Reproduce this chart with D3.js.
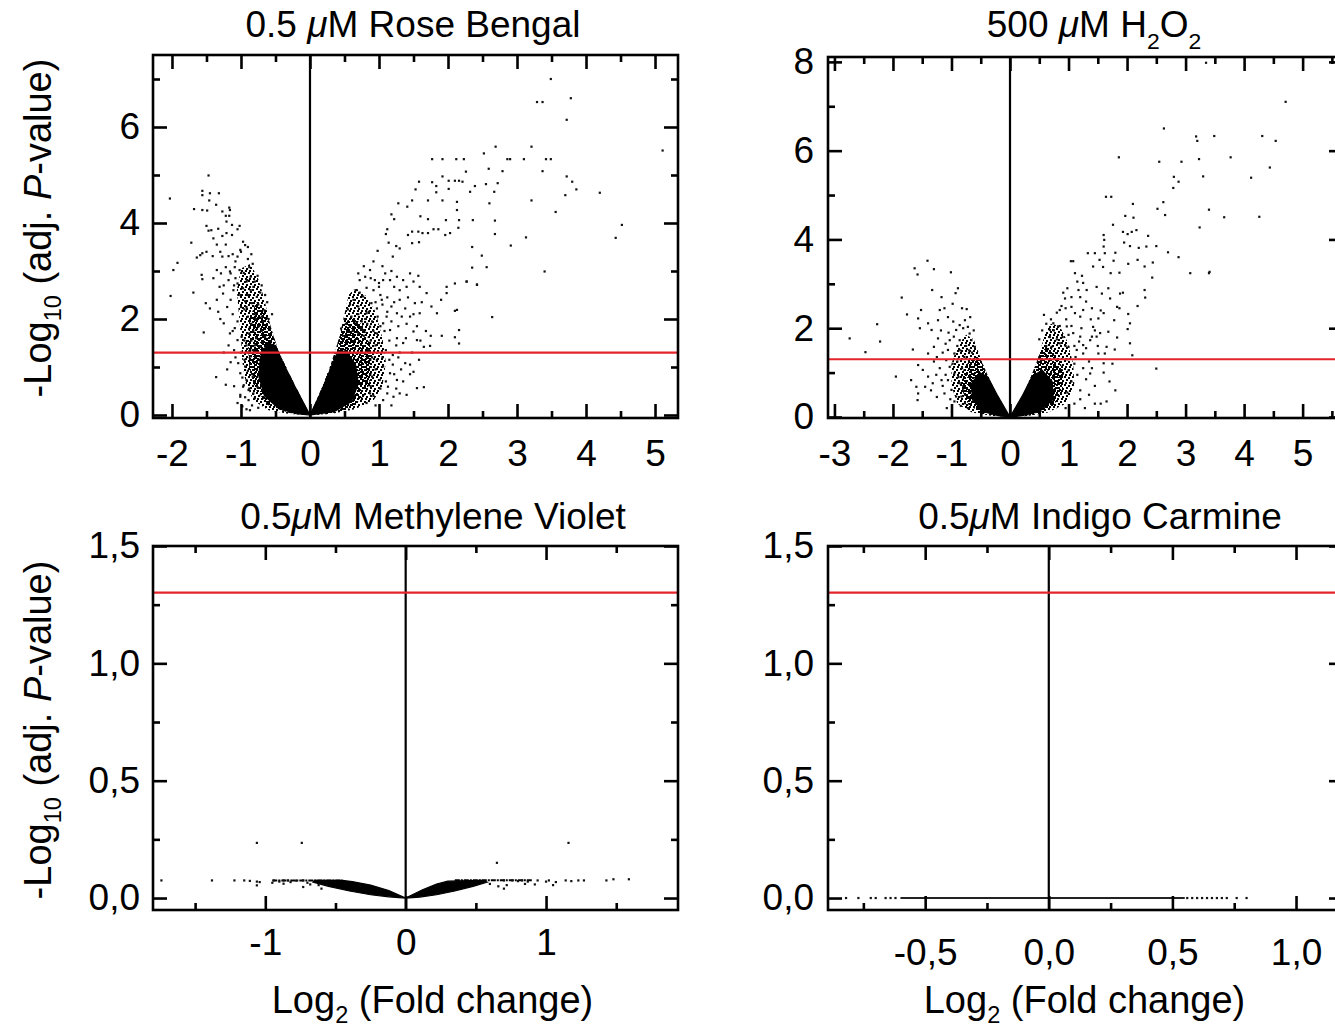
<!DOCTYPE html>
<html>
<head>
<meta charset="utf-8">
<script src="https://cdn.jsdelivr.net/npm/d3@7"></script>
<style>
  html, body { margin: 0; padding: 0; background: #fff; overflow: hidden; }
  svg { display: block; }
  text { font-family: "Liberation Sans", Arial, sans-serif; fill: #000; }
</style>
</head>
<body>
<svg id="chart" width="1335" height="1027"></svg>
<script>
// ---- data: volcano plots, [log2 fold change, -log10 adj. p] ----
const threshold = -Math.log10(0.05);

// Rose Bengal
const roseXTicks = [-2, -1, 0, 1, 2, 3, 4, 5];
const roseXMinor = [-1.5, -0.5, 0.5, 1.5, 2.5, 3.5, 4.5];
const roseYTicks = [0, 2, 4, 6];
const roseYMinor = [1, 3, 5, 7];
// envelopes of the dense cloud: outer (sparse), mid (denser), core (solid)
const roseCloud = [
  [[0, 0], [-0.3, 0.85], [-0.48, 1.4], [-0.58, 1.9], [-0.66, 2.4], [-0.74, 2.8], [-0.86, 3.15], [-1.0, 3.05],
    [-1.06, 2.6], [-1.03, 2.1], [-1.0, 1.6], [-0.98, 1.1], [-0.93, 0.65], [-0.82, 0.3], [-0.6, 0.1], [-0.3, 0.02]],
  [[0, 0], [0.2, 0.65], [0.32, 1.1], [0.42, 1.6], [0.5, 2.1], [0.56, 2.5], [0.66, 2.65], [0.8, 2.5], [0.95, 2.15],
    [1.05, 1.6], [1.1, 1.1], [1.05, 0.6], [0.92, 0.3], [0.65, 0.12], [0.3, 0.02]]
];
const roseMid = [
  [[0, 0], [-0.28, 0.8], [-0.46, 1.35], [-0.56, 1.8], [-0.65, 2.2], [-0.78, 2.35], [-0.88, 2.0], [-0.9, 1.5],
    [-0.88, 1.0], [-0.8, 0.55], [-0.6, 0.2], [-0.3, 0.04]],
  [[0, 0], [0.18, 0.6], [0.3, 1.05], [0.4, 1.5], [0.48, 1.9], [0.62, 2.05], [0.78, 1.85], [0.88, 1.4], [0.9, 0.9],
    [0.82, 0.45], [0.6, 0.15], [0.3, 0.03]]
];
const roseCore = [
  [[0, 0], [-0.22, 0.6], [-0.4, 1.12], [-0.5, 1.45], [-0.62, 1.5], [-0.72, 1.2], [-0.74, 0.8], [-0.66, 0.4],
    [-0.45, 0.13], [-0.2, 0.03]],
  [[0, 0], [0.15, 0.45], [0.28, 0.9], [0.38, 1.25], [0.52, 1.35], [0.66, 1.05], [0.7, 0.65], [0.6, 0.28], [0.35, 0.07]]
];
const rosePoints = [
  [-2.03, 4.51], [-1.56, 4.67], [-1.56, 4.58], [-1.45, 4.62], [-1.32, 4.62], [-1.47, 4.99], [-1.46, 4.47], [-1.36, 4.38],
  [-1.68, 4.29], [-1.56, 4.27], [-1.49, 4.26], [-1.27, 4.24], [-1.17, 4.32], [-1.16, 4.27], [-1.22, 4.15], [-1.17, 4.15],
  [-1.21, 4.03], [-1.13, 3.96], [-1.02, 3.94], [-1.05, 3.87], [-1.5, 3.94], [-1.47, 3.84], [-1.43, 3.85], [-1.33, 3.88],
  [-1.4, 3.68], [-1.27, 3.73], [-1.21, 3.79], [-1.13, 3.75], [-1.72, 3.59], [-1.56, 3.37], [-1.5, 3.4], [-1.41, 3.31],
  [-1.3, 3.4], [-1.27, 3.3], [-1.18, 3.31], [-1.12, 3.35], [-1.05, 3.3], [-1.01, 3.44], [-0.97, 3.61], [-0.94, 3.54],
  [-1.92, 3.17], [-1.98, 3.02], [-1.64, 3.28], [-1.59, 3.33], [-1.57, 2.92], [-1.56, 2.83], [-1.35, 3.02], [-1.29, 2.95],
  [-1.22, 3.08], [-1.16, 2.99], [-1.09, 3.08], [-1.02, 3.02], [-0.96, 2.96], [-0.88, 3.08], [-0.86, 2.88], [-0.92, 2.78],
  [-2.02, 2.48], [-1.69, 2.55], [-1.51, 2.33], [-1.45, 2.22], [-1.33, 2.15], [-1.31, 2.67], [-1.26, 2.53], [-1.18, 2.81],
  [-1.11, 2.6], [-1.05, 2.74], [-1.01, 2.5], [-0.97, 2.64], [-0.91, 2.81], [-0.82, 2.67], [-0.77, 2.46], [-0.84, 2.33],
  [-0.94, 2.37], [-1.54, 1.72], [-1.36, 0.79], [-1.22, 0.63], [-1.25, 1.91], [-1.16, 1.7], [-1.09, 1.81], [-1.05, 1.56],
  [-0.99, 1.63], [-1.04, 1.08], [-1.01, 0.87], [-0.94, 1.01], [-0.92, 0.73], [-0.97, 0.59], [-1.01, 0.38], [-0.89, 0.31],
  [-0.82, 0.45], [-0.87, 0.1], [-1.01, 0.42], [-0.94, 0.37], [-0.89, 0.52],
  [-0.95, 2.2], [-0.9, 2.05], [-0.85, 1.9], [-0.8, 2.1], [-0.75, 2.3], [-0.7, 2.05], [-0.88, 1.7], [-0.78, 1.6],
  [-0.7, 1.75], [-0.65, 1.62], [-0.92, 1.45], [-0.83, 1.35], [-0.62, 2.35], [-0.66, 2.18], [-0.72, 2.55], [-0.8, 2.78],
  [-0.68, 1.95], [-0.95, 1.55], [-0.95, 1.15], [-0.9, 0.92], [-0.86, 1.22], [-0.83, 0.8], [-0.96, 0.62], [-0.88, 0.55],
  [-0.8, 0.35], [-0.76, 0.58], [-1.1, 1.35], [-1.05, 1.95], [-1.12, 2.1], [-1.0, 2.25], [-0.9, 2.5], [-0.86, 2.6],
  [-0.78, 2.0], [-0.74, 1.85], [-0.6, 2.0], [-0.58, 1.8], [-0.85, 1.55], [-0.8, 1.45], [-0.9, 1.3], [-1.0, 1.3],
  [-0.98, 0.78], [-0.84, 0.2], [-0.75, 0.15], [-0.7, 2.7], [-0.76, 2.9], [-0.83, 3.15], [-0.9, 3.25], [-1.08, 2.85],
  [-1.15, 2.4], [-1.2, 2.25], [-1.08, 1.2], [-1.18, 1.45], [-0.65, 2.5], [-0.55, 2.1], [-0.92, 2.25], [-0.82, 1.75],
  [-0.72, 1.42], [-0.68, 1.3],
  [-1.1, 2.7], [-1.15, 2.95], [-1.12, 1.75], [-1.15, 1.1], [-1.2, 0.95], [-1.1, 0.6], [-1.05, 0.25], [-0.98, 0.18],
  [-0.92, 0.12], [-1.25, 1.3], [-1.3, 2.0], [-1.35, 2.4], [-1.25, 2.7], [-1.4, 2.85], [-1.08, 3.2], [-1.0, 3.4],
  [-0.9, 3.5], [-1.22, 3.55], [-1.35, 3.55], [-0.85, 3.35],
  [3.49, 7.0], [3.29, 6.52], [3.37, 6.52], [3.78, 6.6], [3.72, 6.15], [5.11, 5.51], [2.69, 5.59], [3.21, 5.59],
  [1.77, 5.33], [1.92, 5.33], [2.12, 5.33], [2.23, 5.33], [2.86, 5.33], [2.9, 5.33], [3.1, 5.33], [3.42, 5.33],
  [3.49, 5.33], [2.52, 5.45], [2.59, 5.13], [2.26, 5.07], [2.79, 5.08], [3.37, 5.08], [3.72, 4.97], [3.8, 4.86],
  [3.86, 4.7], [3.7, 4.58], [4.2, 4.63], [3.56, 4.23], [3.21, 4.47], [4.52, 3.96], [4.43, 3.69], [3.13, 3.7],
  [3.4, 2.99], [2.64, 2.04], [2.91, 3.53], [2.68, 3.77], [2.68, 4.05], [2.67, 4.65], [2.72, 4.83], [2.6, 4.41],
  [2.55, 4.81], [2.39, 4.77], [2.32, 4.65], [2.49, 3.32], [2.56, 3.08], [2.36, 4.06], [2.35, 3.5], [2.35, 3.07],
  [2.42, 2.72], [2.27, 2.78], [2.15, 3.9], [2.16, 4.06], [2.13, 4.27], [2.13, 4.44], [2.1, 4.88], [2.16, 4.88],
  [2.21, 4.86], [2.01, 4.88], [2.01, 4.71], [1.92, 4.97], [1.83, 4.77], [1.83, 4.64], [1.77, 4.85], [1.58, 4.86],
  [1.53, 4.7], [1.48, 4.47], [1.71, 4.47], [1.92, 4.47], [1.28, 4.41], [1.41, 4.34], [1.18, 4.18], [1.22, 4.08],
  [1.6, 4.14], [1.71, 4.08], [1.97, 4.06], [1.12, 3.87], [1.1, 3.77], [1.42, 3.75], [1.48, 3.82], [1.57, 3.82],
  [1.63, 3.79], [1.71, 3.79], [1.79, 3.87], [1.86, 3.87], [1.96, 3.75], [2.03, 3.79], [0.98, 3.42], [1.14, 3.59],
  [1.25, 3.52], [1.3, 3.47], [1.48, 3.58], [1.58, 3.6],
  [0.72, 2.81], [0.8, 2.88], [0.87, 3.02], [0.94, 2.81], [1.0, 2.67], [1.06, 2.81], [1.09, 2.95], [1.16, 2.81],
  [1.22, 2.67], [1.26, 2.88], [1.3, 2.6], [1.35, 2.81], [1.4, 2.67], [1.45, 2.95], [1.5, 2.78], [1.57, 2.9], [1.59, 2.67],
  [0.63, 2.4], [0.7, 2.26], [0.77, 2.47], [0.82, 2.12], [0.89, 2.33], [0.97, 2.22], [1.04, 2.4], [1.11, 2.05],
  [1.18, 2.26], [1.26, 2.12], [1.3, 2.4], [1.38, 2.22], [1.45, 2.05], [1.52, 2.33], [1.59, 2.12], [1.69, 2.54],
  [1.76, 2.26], [1.84, 2.12], [1.9, 2.4], [1.98, 2.67], [2.1, 2.74], [2.13, 2.19], [2.27, 2.78], [2.42, 2.71],
  [0.58, 1.84], [0.68, 1.91], [0.77, 1.77], [0.87, 1.84], [0.97, 1.7], [1.06, 1.91], [1.16, 1.77], [1.26, 1.6],
  [1.39, 1.6], [1.5, 1.74], [1.55, 1.56], [1.65, 1.42], [1.74, 1.44], [1.75, 1.65], [1.91, 1.65], [2.1, 1.62],
  [2.16, 1.49], [2.16, 1.77], [2.1, 2.17], [1.98, 2.54],
  [0.97, 1.15], [1.06, 1.01], [1.16, 0.87], [1.26, 0.73], [1.13, 0.59], [1.3, 0.45], [1.4, 0.42], [1.21, 0.38],
  [1.38, 1.08], [1.55, 0.56], [1.65, 0.58], [1.01, 0.73], [0.87, 0.45], [1.06, 0.31],
  [0.5, 2.0], [0.55, 2.2], [0.6, 2.05], [0.65, 1.95], [0.7, 2.1], [0.75, 1.95], [0.8, 2.0], [0.85, 2.15], [0.9, 1.95],
  [0.62, 1.75], [0.7, 1.7], [0.78, 1.65], [0.88, 1.55], [0.95, 1.45], [1.0, 1.5], [0.85, 1.35], [0.9, 1.2], [0.95, 0.95],
  [0.9, 0.8], [0.88, 0.6], [0.92, 0.4], [0.82, 0.25], [0.95, 0.2], [1.02, 0.55], [1.1, 0.7], [1.05, 1.2], [1.1, 1.35],
  [1.15, 1.55], [1.2, 1.25], [1.2, 1.05], [0.72, 2.55], [0.66, 2.6], [0.58, 2.3], [0.52, 1.9], [0.45, 1.8], [0.92, 2.6],
  [1.02, 2.5], [1.12, 2.45], [0.98, 2.05], [1.08, 1.75], [1.3, 1.3], [1.32, 0.95], [1.45, 0.85], [1.25, 1.45],
  [0.48, 1.65], [0.75, 1.8], [0.83, 1.9], [0.92, 1.75], [1.02, 1.85],
  [1.05, 2.3], [1.12, 2.15], [1.18, 1.95], [1.22, 2.35], [1.28, 1.85], [1.33, 2.05], [1.35, 1.5], [1.4, 1.9],
  [1.42, 2.45], [1.48, 1.3], [1.5, 2.1], [1.55, 1.85], [1.6, 1.55], [1.62, 2.35], [1.68, 1.75], [1.15, 1.15],
  [1.22, 0.85], [1.28, 1.2], [1.35, 0.7], [1.45, 1.05], [1.5, 0.9], [1.58, 1.15], [1.12, 0.45], [1.18, 0.2],
  [1.25, 0.55], [0.95, 2.35], [1.0, 2.75], [0.82, 2.65], [0.88, 2.85], [0.78, 3.1], [0.92, 3.2], [1.05, 3.1],
  [1.18, 3.0], [1.2, 3.3], [0.7, 2.95]
];

// H2O2
const h2o2XTicks = [-3, -2, -1, 0, 1, 2, 3, 4, 5];
const h2o2XMinor = [-2.5, -1.5, -0.5, 0.5, 1.5, 2.5, 3.5, 4.5, 5.5];
const h2o2YTicks = [0, 2, 4, 6, 8];
const h2o2YMinor = [1, 3, 5, 7];
const h2o2Cloud = [
  [[0, 0], [-0.28, 0.65], [-0.45, 1.15], [-0.55, 1.5], [-0.62, 1.75], [-0.75, 1.85], [-0.9, 1.6], [-1.0, 1.2],
    [-1.0, 0.7], [-0.9, 0.3], [-0.65, 0.1], [-0.3, 0.02]],
  [[0, 0], [0.28, 0.65], [0.42, 1.1], [0.52, 1.5], [0.6, 1.9], [0.7, 2.1], [0.85, 2.05], [0.98, 1.7], [1.08, 1.2],
    [1.1, 0.7], [0.95, 0.3], [0.65, 0.1], [0.3, 0.02]]
];
const h2o2Mid = [
  [[0, 0], [-0.26, 0.6], [-0.42, 1.05], [-0.52, 1.35], [-0.66, 1.35], [-0.8, 1.05], [-0.82, 0.6], [-0.7, 0.25],
    [-0.4, 0.06]],
  [[0, 0], [0.26, 0.6], [0.4, 1.05], [0.5, 1.4], [0.62, 1.6], [0.8, 1.45], [0.92, 1.0], [0.9, 0.55], [0.72, 0.22],
    [0.4, 0.05]]
];
const h2o2Core = [
  [[0, 0], [-0.22, 0.5], [-0.38, 0.9], [-0.52, 1.0], [-0.66, 0.75], [-0.64, 0.38], [-0.45, 0.12], [-0.2, 0.03]],
  [[0, 0], [0.22, 0.5], [0.38, 0.92], [0.55, 1.05], [0.72, 0.8], [0.74, 0.4], [0.5, 0.12], [0.2, 0.03]]
];
const h2o2Points = [
  [-2.74, 1.77], [-2.47, 1.46], [-2.27, 2.09], [-2.22, 1.7], [-1.95, 0.91], [-1.85, 2.69], [-1.76, 2.31], [-1.63, 3.35],
  [-1.58, 3.21], [-1.41, 3.52], [-1.3, 3.33], [-1.33, 2.86], [-1.17, 2.7], [-1.01, 3.26], [-0.93, 2.79], [-0.89, 2.9],
  [-0.82, 2.45], [-0.74, 2.43], [-1.52, 2.41], [-1.57, 2.22], [-1.54, 2.0], [-1.4, 2.11], [-1.34, 1.96], [-1.23, 2.18],
  [-1.2, 2.41], [-1.23, 1.77], [-1.3, 1.58], [-1.4, 1.43], [-1.66, 1.52], [-1.57, 1.17], [-1.49, 1.06], [-1.4, 0.91],
  [-1.6, 0.68], [-1.57, 0.53], [-1.45, 0.68], [-1.32, 0.76], [-1.26, 0.95], [-1.17, 0.83], [-1.69, 0.83], [-1.58, 0.38],
  [-1.06, 2.25], [-0.97, 2.15], [-0.92, 1.96], [-0.86, 2.07], [-0.8, 2.0], [-1.03, 1.73], [-0.96, 1.81], [-0.86, 1.73],
  [-1.06, 1.51], [-0.95, 1.43], [-1.09, 1.28], [-0.77, 2.18], [-0.72, 2.03], [-0.69, 1.88], [-0.66, 1.73], [-0.6, 1.58],
  [-1.03, 1.13], [-0.95, 0.98], [-0.86, 0.76], [-1.0, 0.61], [-0.92, 0.46], [-1.06, 0.83], [-0.83, 0.46], [-0.77, 0.31],
  [-1.12, 0.53], [-0.85, 1.5], [-0.78, 1.35], [-0.9, 1.25], [-0.82, 1.1], [-0.88, 0.9], [-0.8, 0.6], [-0.7, 1.5],
  [-0.75, 1.6], [-0.65, 1.45], [-0.9, 1.6], [-0.98, 1.2], [-0.84, 0.25], [-0.95, 0.35], [-1.1, 0.95], [-1.15, 1.45],
  [-0.72, 0.2],
  [-1.05, 1.9], [-1.1, 1.65], [-1.02, 0.4], [-1.08, 0.2], [-1.15, 0.7], [-1.2, 1.1], [-1.25, 1.35], [-1.18, 1.95],
  [-1.3, 1.25], [-1.35, 0.6], [-0.68, 2.25], [-0.62, 1.95], [-1.12, 2.45], [-1.25, 0.45], [-0.98, 2.55],
  [3.35, 7.98], [4.71, 7.1], [2.63, 6.5], [3.18, 6.32], [3.2, 6.22], [3.49, 6.33], [4.31, 6.33], [4.54, 6.22],
  [1.86, 5.85], [2.55, 5.75], [2.93, 5.75], [3.23, 5.81], [3.77, 5.85], [4.44, 5.62], [2.8, 5.41], [2.88, 5.3],
  [2.79, 5.16], [3.3, 5.42], [4.12, 5.39], [1.64, 4.96], [1.73, 4.96], [2.62, 4.84], [2.52, 4.69], [2.65, 4.55],
  [2.1, 4.8], [3.4, 4.67], [3.66, 4.5], [4.26, 4.51], [3.24, 4.27], [1.97, 4.53], [2.11, 4.49], [1.76, 4.33],
  [1.93, 4.17], [2.01, 4.12], [2.08, 4.17], [2.16, 4.21], [2.36, 4.08], [1.95, 3.93], [2.05, 3.85], [2.2, 3.81],
  [2.33, 3.84], [2.5, 3.85], [1.6, 4.1], [1.61, 3.99], [1.6, 3.84], [2.7, 3.71], [2.88, 3.6], [3.08, 3.24],
  [3.4, 3.24], [3.41, 3.27], [1.33, 3.69], [1.45, 3.69], [1.53, 3.54], [1.62, 3.69], [1.77, 3.52], [1.8, 3.7],
  [1.42, 3.39], [1.59, 3.38], [1.72, 3.24], [1.87, 3.25], [2.02, 3.45], [2.18, 3.54], [2.3, 3.39], [2.44, 3.48],
  [2.43, 3.14], [1.04, 3.51], [1.08, 3.51], [1.11, 3.24], [1.23, 3.18], [1.25, 3.02], [1.17, 2.86], [0.91, 2.8],
  [0.94, 2.67], [1.2, 2.7], [1.31, 2.86], [1.48, 2.93], [1.57, 2.78], [1.68, 2.9], [1.71, 2.67], [1.88, 2.78],
  [1.83, 2.48], [1.6, 2.34], [1.51, 2.22], [1.42, 2.03], [1.4, 1.81], [1.54, 1.89], [1.68, 1.92], [1.78, 2.18],
  [1.87, 2.45], [2.02, 2.32], [2.05, 2.11], [2.01, 1.98], [2.18, 2.5], [2.3, 2.86], [2.31, 2.69], [1.93, 2.8],
  [1.05, 2.48], [1.11, 2.34], [1.2, 2.26], [1.25, 2.41], [0.85, 2.41], [0.74, 2.11], [0.68, 1.96], [0.82, 2.04],
  [0.97, 2.04], [1.08, 1.89], [1.2, 1.81], [1.25, 1.62], [1.37, 1.73], [1.48, 1.81], [1.51, 1.43], [1.65, 1.58],
  [1.79, 1.52], [1.83, 1.79], [1.62, 1.43], [2.05, 1.66], [2.09, 1.39], [2.5, 1.09], [1.37, 0.98], [1.6, 1.21],
  [1.25, 1.43], [1.14, 1.51], [1.0, 1.58], [0.85, 1.66], [0.71, 1.58],
  [0.55, 1.95], [0.62, 2.1], [0.7, 2.2], [0.75, 1.95], [0.8, 1.75], [0.85, 2.05], [0.9, 1.8], [0.95, 1.6],
  [0.68, 1.8], [0.62, 1.6], [0.98, 1.3], [1.0, 1.05], [1.05, 0.8], [0.98, 0.55], [1.1, 1.2], [1.15, 0.95],
  [1.2, 0.6], [1.3, 0.85], [1.35, 0.5], [1.45, 0.7], [1.55, 0.3], [1.65, 0.35], [1.1, 0.3], [0.95, 0.2],
  [1.25, 1.1], [1.4, 1.1], [0.8, 2.35], [0.88, 2.5], [0.96, 2.2], [1.0, 1.85], [1.1, 1.6], [0.58, 2.3],
  [0.5, 1.75], [1.05, 2.05],
  [1.12, 1.35], [1.18, 1.7], [1.22, 2.0], [1.3, 1.55], [1.35, 1.25], [1.38, 2.2], [1.45, 1.95], [1.5, 1.6],
  [1.55, 2.4], [1.6, 1.0], [1.7, 0.8], [1.75, 1.2], [1.8, 0.6], [1.2, 0.4], [1.28, 0.2], [1.45, 0.3],
  [0.95, 2.45], [1.05, 2.7], [0.98, 2.9], [1.15, 3.05], [1.3, 2.6], [1.4, 2.45]
];

// Methylene Violet
const mvXTicks = [-1, 0, 1];
const mvXMinor = [-1.5, -0.5, 0.5, 1.5];
const mvYTicks = [0, 0.5, 1.0, 1.5];
const mvYMinor = [0.25, 0.75, 1.25];
const mvCore = [
  [[0, 0], [-0.12, 0.032], [-0.25, 0.055], [-0.38, 0.07], [-0.45, 0.075], [-0.65, 0.075], [-0.66, 0.068],
    [-0.55, 0.05], [-0.4, 0.03], [-0.25, 0.014], [-0.12, 0.005]],
  [[0, 0], [0.12, 0.035], [0.22, 0.06], [0.3, 0.072], [0.55, 0.075], [0.58, 0.068], [0.48, 0.05], [0.35, 0.03],
    [0.22, 0.014], [0.1, 0.004]]
];
const mvRows = [[-0.95, -0.45, 0.075], [0.35, 0.9, 0.076]];
const mvPoints = [
  [-1.74, 0.075], [-1.38, 0.075], [-1.22, 0.075], [-1.15, 0.075], [-1.11, 0.073], [-1.06, 0.07], [-1.04, 0.068],
  [-0.94, 0.075], [-0.87, 0.075], [-0.84, 0.075], [-0.78, 0.074], [-0.73, 0.075], [-1.06, 0.054], [-0.87, 0.061],
  [-0.73, 0.047], [-0.6, 0.04], [-1.06, 0.235], [-0.74, 0.235], [1.16, 0.235], [0.65, 0.15], [0.7, 0.075],
  [0.76, 0.075], [0.8, 0.072], [0.83, 0.075], [0.87, 0.07], [0.94, 0.075], [1.0, 0.07], [1.02, 0.075], [1.07, 0.068],
  [1.14, 0.075], [1.18, 0.072], [1.23, 0.075], [1.27, 0.075], [1.43, 0.075], [1.48, 0.08], [1.59, 0.08], [0.6, 0.06],
  [0.66, 0.05], [0.72, 0.055], [0.85, 0.06], [0.92, 0.058], [1.05, 0.055], [0.7, 0.04], [-0.95, 0.065], [-0.9, 0.07],
  [-0.82, 0.068], [-0.7, 0.065], [-0.68, 0.058], [-0.62, 0.055]
];

// Indigo Carmine
const icXTicks = [-0.5, 0, 0.5, 1.0];
const icXMinor = [-0.75, -0.25, 0.25, 0.75];
const icYTicks = [0, 0.5, 1.0, 1.5];
const icYMinor = [0.25, 0.75, 1.25];
const icDense = [-0.6, 0.55];
const icPoints = [-0.82, -0.77, -0.72, -0.7, -0.66, -0.64, -0.62, 0.56, 0.58, 0.6, 0.62, 0.64, 0.66, 0.68,
  0.7, 0.72, 0.76, 0.8];

// ---- layout ----
const svg = d3.select('#chart');
const TICK_FONT = 37;
const LABEL_FONT = 38;
const TITLE_FONT = 37;
const intFmt = (d) => d3.format('d')(d).replace('−', '-');
const commaFmt1 = (d) => d3.format('.1f')(d).replace('.', ',').replace('−', '-');

// speckle textures for the crowded parts of the clouds
const defs = svg.append('defs');
const speckles = [
  { id: 'speckA', size: 8, dots: [[0, 0], [4, 1], [2, 3], [6, 4], [1, 6], [5, 6]] },
  { id: 'speckB', size: 7, dots: [[3, 0], [0, 2], [5, 2], [2, 4], [4, 5], [1, 6]] }
];
speckles.forEach((s) => {
  const pat = defs.append('pattern')
    .attr('id', s.id)
    .attr('patternUnits', 'userSpaceOnUse')
    .attr('width', s.size)
    .attr('height', s.size);
  pat.selectAll('rect')
    .data(s.dots)
    .join('rect')
    .attr('x', (d) => d[0])
    .attr('y', (d) => d[1])
    .attr('width', 2)
    .attr('height', 2)
    .attr('fill', '#000');
});

const panels = [
  {
    frame: [153, 55, 678, 418], xDomain: [-2.275, 5.333], yDomain: [-0.0625, 7.5],
    xTicks: roseXTicks, xMinor: roseXMinor, yTicks: roseYTicks, yMinor: roseYMinor,
    xFmt: intFmt, yFmt: intFmt, xPad: 22, yPad: 13,
    cloud: roseCloud, mid: roseMid, cores: roseCore, points: rosePoints,
    title: [['0.5 ', null], ['μ', 'it'], ['M Rose Bengal', null]], titlePos: [413, 37]
  },
  {
    frame: [828, 57, 1343, 418], xDomain: [-3.11, 5.69], yDomain: [-0.023, 8.11],
    xTicks: h2o2XTicks, xMinor: h2o2XMinor, yTicks: h2o2YTicks, yMinor: h2o2YMinor,
    xFmt: intFmt, yFmt: intFmt, xPad: 22, yPad: 14,
    cloud: h2o2Cloud, mid: h2o2Mid, cores: h2o2Core, points: h2o2Points,
    title: [['500 ', null], ['μ', 'it'], ['M H', null], ['2', 'sub'], ['O', null], ['2', 'sub']], titlePos: [1094, 37]
  },
  {
    frame: [153, 546, 678, 910], xDomain: [-1.8, 1.94], yDomain: [-0.051, 1.5],
    xTicks: mvXTicks, xMinor: mvXMinor, yTicks: mvYTicks, yMinor: mvYMinor,
    xFmt: intFmt, yFmt: commaFmt1, xPad: 19, yPad: 13,
    cloud: [], mid: [], cores: mvCore, points: mvPoints, rows: mvRows,
    title: [['0.5', null], ['μ', 'it'], ['M Methylene Violet', null]], titlePos: [433, 529],
    xLabel: true
  },
  {
    frame: [828, 546, 1343, 910], xDomain: [-0.893, 1.19], yDomain: [-0.051, 1.5],
    xTicks: icXTicks, xMinor: icXMinor, yTicks: icYTicks, yMinor: icYMinor,
    xFmt: commaFmt1, yFmt: commaFmt1, xPad: 29, yPad: 14,
    cloud: [], mid: [], cores: [], points: icPoints.map((v) => [v, 0]), dense: icDense,
    title: [['0.5', null], ['μ', 'it'], ['M Indigo Carmine', null]], titlePos: [1100, 529],
    xLabel: true
  }
];

function richText(sel, parts, drop) {
  let shift = 0;
  parts.forEach(([s, style]) => {
    const t = sel.append('tspan').text(s);
    const target = style === 'sub' ? drop : 0;
    if (target !== shift) {
      t.attr('dy', target - shift);
      shift = target;
    }
    if (style === 'sub') t.attr('font-size', '62%');
    if (style === 'it') t.attr('font-style', 'italic');
  });
}

function drawPanel(p) {
  const [l, t, r, b] = p.frame;
  const x = d3.scaleLinear().domain(p.xDomain).range([l, r]);
  const y = d3.scaleLinear().domain(p.yDomain).range([b, t]);
  const g = svg.append('g');
  const shape = d3.line().x((d) => x(d[0])).y((d) => y(d[1]));

  // crowded regions: sparse speckle, denser speckle, then solid
  const layers = [
    [p.cloud, 'url(#speckA)', 0],
    [p.mid, 'url(#speckB)', 0],
    [p.cores, '#000', 1.2]
  ];
  layers.forEach(([polys, fill, sw]) => {
    g.append('g')
      .selectAll('path')
      .data(polys)
      .join('path')
      .attr('d', (d) => shape(d) + 'Z')
      .attr('fill', fill)
      .attr('stroke', sw ? '#000' : 'none')
      .attr('stroke-width', sw);
  });

  if (p.rows) {
    g.selectAll('line.row')
      .data(p.rows)
      .join('line')
      .attr('x1', (d) => x(d[0]))
      .attr('x2', (d) => x(d[1]))
      .attr('y1', (d) => y(d[2]))
      .attr('y2', (d) => y(d[2]))
      .attr('stroke', '#000')
      .attr('stroke-width', 2)
      .attr('stroke-dasharray', '5,1,2,1');
  }

  if (p.dense) {
    g.append('line')
      .attr('x1', x(p.dense[0]))
      .attr('x2', x(p.dense[1]))
      .attr('y1', y(0))
      .attr('y2', y(0))
      .attr('stroke', '#222')
      .attr('stroke-width', 2);
  }

  g.selectAll('rect.pt')
    .data(p.points)
    .join('rect')
    .attr('class', 'pt')
    .attr('x', (d) => x(d[0]) - 1.1)
    .attr('y', (d) => y(d[1]) - 1.1)
    .attr('width', 2.2)
    .attr('height', 2.2)
    .attr('fill', '#111');

  // zero line and significance threshold
  g.append('line')
    .attr('x1', x(0)).attr('x2', x(0))
    .attr('y1', t).attr('y2', b)
    .attr('stroke', '#000').attr('stroke-width', 2.2);
  g.append('line')
    .attr('x1', l).attr('x2', r)
    .attr('y1', y(threshold)).attr('y2', y(threshold))
    .attr('stroke', '#e3262b').attr('stroke-width', 2.2);

  // axes: ticks inward on all four sides
  const major = 14;
  const minor = 7;
  const axes = [
    [d3.axisBottom(x).tickValues(p.xTicks).tickSize(-major).tickPadding(p.xPad).tickFormat(p.xFmt), 0, b],
    [d3.axisBottom(x).tickValues(p.xMinor).tickSize(-minor).tickFormat(''), 0, b],
    [d3.axisTop(x).tickValues(p.xTicks).tickSize(-major).tickFormat(''), 0, t],
    [d3.axisTop(x).tickValues(p.xMinor).tickSize(-minor).tickFormat(''), 0, t],
    [d3.axisLeft(y).tickValues(p.yTicks).tickSize(-major).tickPadding(p.yPad).tickFormat(p.yFmt), l, 0],
    [d3.axisLeft(y).tickValues(p.yMinor).tickSize(-minor).tickFormat(''), l, 0],
    [d3.axisRight(y).tickValues(p.yTicks).tickSize(-major).tickFormat(''), r, 0],
    [d3.axisRight(y).tickValues(p.yMinor).tickSize(-minor).tickFormat(''), r, 0]
  ];
  axes.forEach(([ax, tx, ty]) => {
    const a = g.append('g').attr('transform', `translate(${tx},${ty})`).call(ax);
    a.select('.domain').remove();
    a.selectAll('line').attr('stroke', '#000').attr('stroke-width', 2.6);
    a.selectAll('text')
      .attr('font-size', TICK_FONT)
      .attr('font-family', '"Liberation Sans", Arial, sans-serif')
      .attr('fill', '#000');
  });

  g.append('rect')
    .attr('x', l).attr('y', t)
    .attr('width', r - l).attr('height', b - t)
    .attr('fill', 'none')
    .attr('stroke', '#000')
    .attr('stroke-width', 2.6);

  const title = g.append('text')
    .attr('x', p.titlePos[0])
    .attr('y', p.titlePos[1])
    .attr('text-anchor', 'middle')
    .attr('font-size', TITLE_FONT);
  richText(title, p.title, 12);

  if (p.xLabel) {
    const xl = g.append('text')
      .attr('x', (l + r) / 2 + (p.dense ? -1 : 17))
      .attr('y', 1013)
      .attr('text-anchor', 'middle')
      .attr('font-size', LABEL_FONT);
    richText(xl, [['Log', null], ['2', 'sub'], [' (Fold change)', null]], 10);
  }
}

panels.forEach(drawPanel);

// shared y-axis labels
[228, 730].forEach((cy) => {
  const yl = svg.append('text')
    .attr('transform', `translate(51,${cy}) rotate(-90)`)
    .attr('text-anchor', 'middle')
    .attr('font-size', LABEL_FONT);
  richText(yl, [['-Log', null], ['10', 'sub'], [' (adj. ', null], ['P', 'it'], ['-value)', null]], 10);
});
</script>
</body>
</html>
